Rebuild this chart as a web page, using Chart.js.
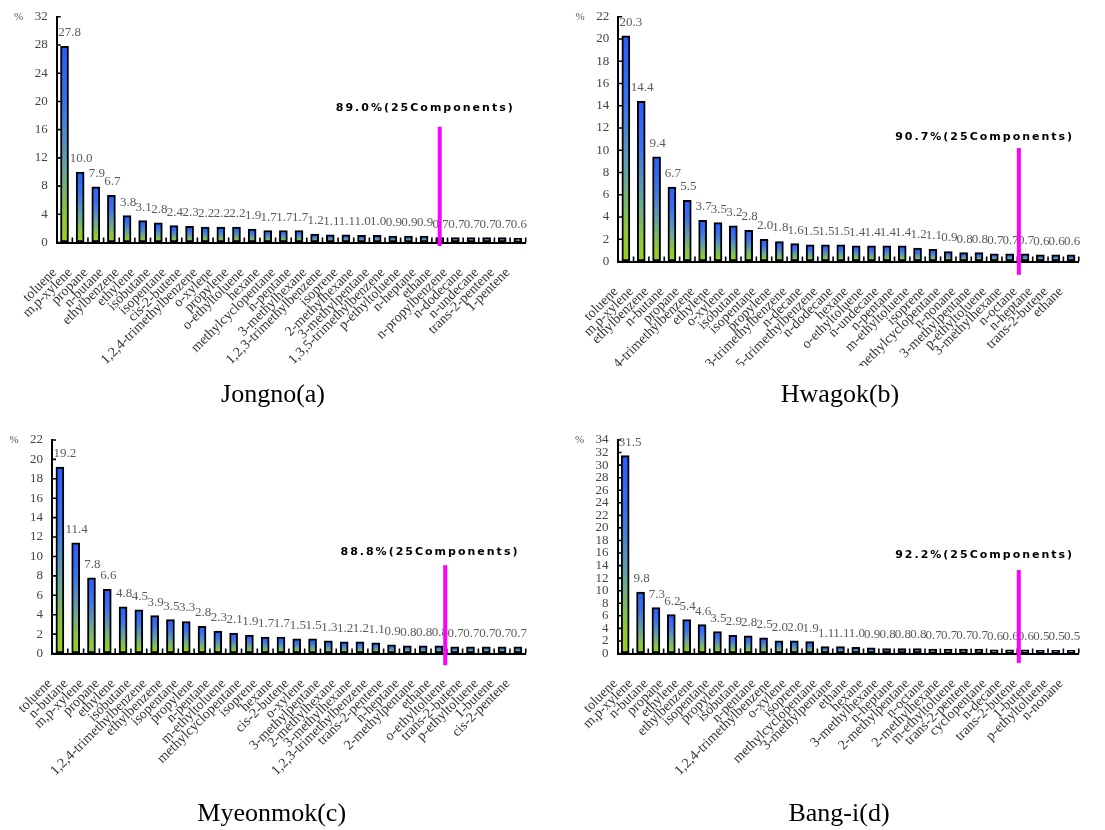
<!DOCTYPE html>
<html><head><meta charset="utf-8">
<script src="https://cdn.jsdelivr.net/npm/chart.js@4.4.1/dist/chart.umd.min.js"></script>
<style>
html,body{margin:0;padding:0;background:#fff;}
body{width:1105px;height:830px;position:relative;overflow:hidden;}
.panel{position:absolute;}
</style></head><body>
<div class="panel" style="left:0;top:0;width:552px;height:415px"><canvas id="c0"></canvas></div>
<div class="panel" style="left:552px;top:0;width:553px;height:415px"><canvas id="c1"></canvas></div>
<div class="panel" style="left:0;top:415px;width:552px;height:415px"><canvas id="c2"></canvas></div>
<div class="panel" style="left:552px;top:415px;width:553px;height:415px"><canvas id="c3"></canvas></div>
<script>
// ---------- DATA ----------
const jongnoLabels = ['toluene','m,p-xylene','propane','n-butane','ethylbenzene','ethylene','isobutane','isopentane','cis-2-butene','1,2,4-trimethylbenzene','o-xylene','propylene','o-ethyltoluene','hexane','methylcyclopentane','n-pentane','3-methylhexane','1,2,3-trimethylbenzene','isoprene','2-methylhexane','3-methylpentane','1,3,5-trimethylbenzene','p-ethyltoluene','n-heptane','ethane','n-propylbenzene','n-dodecane','n-undecane','trans-2-pentene','1-pentene'];
const jongnoValues = [27.8,10.0,7.9,6.7,3.8,3.1,2.8,2.4,2.3,2.2,2.2,2.2,1.9,1.7,1.7,1.7,1.2,1.1,1.1,1.0,1.0,0.9,0.9,0.9,0.7,0.7,0.7,0.7,0.7,0.6];

const hwagokLabels = ['toluene','m,p-xylene','ethylbenzene','n-butane','propane','1,2,4-trimethylbenzene','ethylene','o-xylene','isobutane','isopentane','propylene','1,2,3-trimethylbenzene','n-decane','1,3,5-trimethylbenzene','n-dodecane','hexane','o-ethyltoluene','n-undecane','n-pentane','m-ethyltoluene','isoprene','methylcyclopentane','n-nonane','3-methylpentane','p-ethyltoluene','3-methylhexane','n-octane','n-heptane','trans-2-butene','ethane'];
const hwagokValues = [20.3,14.4,9.4,6.7,5.5,3.7,3.5,3.2,2.8,2.0,1.8,1.6,1.5,1.5,1.5,1.4,1.4,1.4,1.4,1.2,1.1,0.9,0.8,0.8,0.7,0.7,0.7,0.6,0.6,0.6];

const myeonmokLabels = ['toluene','n-butane','m,p-xylene','propane','ethylene','isobutane','1,2,4-trimethylbenzene','ethylbenzene','isopentane','propylene','n-pentane','m-ethyltoluene','methylcyclopentane','isoprene','hexane','cis-2-butene','o-xylene','3-methylpentane','2-methylhexane','3-methylhexane','1,2,3-trimethylbenzene','trans-2-pentene','n-heptane','2-methylpentane','ethane','o-ethyltoluene','trans-2-butene','p-ethyltoluene','1-butene','cis-2-pentene'];
const myeonmokValues = [19.2,11.4,7.8,6.6,4.8,4.5,3.9,3.5,3.3,2.8,2.3,2.1,1.9,1.7,1.7,1.5,1.5,1.3,1.2,1.2,1.1,0.9,0.8,0.8,0.8,0.7,0.7,0.7,0.7,0.7];

const bangiLabels = ['toluene','m,p-xylene','n-butane','propane','ethylene','ethylbenzene','isopentane','propylene','isobutane','n-pentane','1,2,4-trimethylbenzene','o-xylene','isoprene','methylcyclopentane','3-methylpentane','ethane','hexane','3-methylhexane','n-heptane','2-methylpentane','n-octane','2-methylhexane','m-ethyltoluene','trans-2-pentene','cyclopentane','n-decane','trans-2-butene','1-butene','p-ethyltoluene','n-nonane'];
const bangiValues = [31.5,9.8,7.3,6.2,5.4,4.6,3.5,2.9,2.8,2.5,2.0,2.0,1.9,1.1,1.1,1.0,0.9,0.8,0.8,0.8,0.7,0.7,0.7,0.7,0.6,0.6,0.6,0.5,0.5,0.5];

const siteTitles = ['Jongno(a)','Hwagok(b)','Myeonmok(c)','Bang-i(d)'];
const cumulativeShare = [89.0, 90.7, 88.8, 92.2];
const componentCount = 25;
const yAxisMax = [32, 22, 22, 34];
const yAxisStep = [4, 2, 2, 2];

// ---------- LAYOUT / STYLE ----------
const layouts = [
  {pad:{left:9,right:15,top:15.5,bottom:4.2}, yWidth:47.7, xHeight:130, titlePad:7.1, clip:false,
   markerX:24.0, markerTop:16.4, markerBottom:-0.5, noteX:28.8, noteY:19.1},
  {pad:{left:26,right:3,top:15.5,bottom:4.2}, yWidth:40.2, xHeight:104.5, titlePad:13.6, clip:true,
   markerX:25.6, markerTop:10.2, markerBottom:-1.2, noteX:29.2, noteY:11.2},
  {pad:{left:6.4,right:15,top:25,bottom:0.2}, yWidth:45.6, xHeight:125, titlePad:20.1, clip:false,
   markerX:24.4, markerTop:9.1, markerBottom:-1.2, noteX:29.1, noteY:10.4},
  {pad:{left:24,right:3,top:25,bottom:0.2}, yWidth:41.5, xHeight:125, titlePad:20.1, clip:false,
   markerX:25.6, markerTop:13.3, markerBottom:-1.5, noteX:29.2, noteY:15.6}
];
const SERIF = "'Liberation Serif','Times New Roman',serif";

function barGradient(ctx){
  const ch = ctx.chart, ys = ch.scales && ch.scales.y;
  if (!ch.chartArea || !ys || ctx.type !== 'data') return '#4a88cc';
  const top = ys.getPixelForValue(ctx.raw), base = ys.getPixelForValue(0);
  if (!isFinite(top) || !isFinite(base) || base - top < 0.5) return '#8fc83a';
  const g = ch.ctx.createLinearGradient(0, top, 0, base);
  g.addColorStop(0, '#2a5cff');
  g.addColorStop(0.3, '#3a74ec');
  g.addColorStop(0.6, '#64a2a6');
  g.addColorStop(0.85, '#8cc63c');
  g.addColorStop(1, '#9ccf22');
  return g;
}

const decor = {
  id: 'decor',
  beforeDraw(chart, args, o){
    if (!o.clip) return;
    const ctx = chart.ctx, xs = chart.scales.x, tb = chart.titleBlock;
    ctx.save();
    ctx.beginPath();
    ctx.rect(0, 0, chart.width, xs.bottom);
    ctx.rect(0, tb.top, chart.width, chart.height - tb.top);
    ctx.clip();
  },
  afterDatasetsDraw(chart, args, o){
    const ctx = chart.ctx, xs = chart.scales.x, ys = chart.scales.y, ca = chart.chartArea;
    const values = chart.data.datasets[0].data;
    ctx.save();
    // inward tick marks
    ctx.strokeStyle = '#000'; ctx.lineWidth = 1.6;
    ctx.beginPath();
    ys.ticks.forEach(t => { const y = ys.getPixelForValue(t.value); ctx.moveTo(ca.left, y); ctx.lineTo(ca.left + 4, y); });
    for (let i = 1; i <= values.length; i++) { const x = xs.getPixelForValue(i - 0.5); ctx.moveTo(x, ca.bottom); ctx.lineTo(x, ca.bottom - 5); }
    ctx.stroke();
    // value labels
    ctx.fillStyle = '#5a5a5a';
    ctx.font = '13px ' + SERIF;
    ctx.textAlign = 'center'; ctx.textBaseline = 'alphabetic';
    chart.getDatasetMeta(0).data.forEach((el, i) => {
      ctx.fillText(values[i].toFixed(1), el.x + (i === 0 ? 5 : 1), el.y - 10);
    });
    // percent sign
    ctx.font = '11px ' + SERIF; ctx.fillStyle = '#555'; ctx.textBaseline = 'middle';
    ctx.fillText('%', ca.left - 38, ys.getPixelForValue(ys.max));
    // magenta cutoff line
    const mx = xs.getPixelForValue(o.markerX);
    ctx.strokeStyle = '#ff00ff'; ctx.lineWidth = 4; ctx.lineCap = 'butt';
    ctx.beginPath();
    ctx.moveTo(mx, ys.getPixelForValue(o.markerTop));
    ctx.lineTo(mx, ys.getPixelForValue(o.markerBottom));
    ctx.stroke();
    // note
    ctx.fillStyle = '#000';
    ctx.font = "bold 11px 'DejaVu Sans', sans-serif";
    ctx.letterSpacing = '2px';
    ctx.textAlign = 'right'; ctx.textBaseline = 'middle';
    ctx.fillText(o.note, xs.getPixelForValue(o.noteX), ys.getPixelForValue(o.noteY));
    ctx.letterSpacing = '0px';
    ctx.restore();
  },
  afterDraw(chart, args, o){
    if (o.clip) chart.ctx.restore();
  }
};

const allLabels = [jongnoLabels, hwagokLabels, myeonmokLabels, bangiLabels];
const allValues = [jongnoValues, hwagokValues, myeonmokValues, bangiValues];

allLabels.forEach((labels, k) => {
  const L = layouts[k];
  new Chart(document.getElementById('c' + k), {
    type: 'bar',
    data: {
      labels: labels,
      datasets: [{
        data: allValues[k],
        backgroundColor: barGradient,
        borderColor: '#000',
        borderWidth: 2,
        borderSkipped: false,
        barThickness: 8
      }]
    },
    options: {
      responsive: true,
      maintainAspectRatio: false,
      devicePixelRatio: 1,
      animation: false,
      events: [],
      layout: { padding: L.pad },
      scales: {
        x: {
          offset: true,
          grid: { display: true, drawOnChartArea: false, drawTicks: false },
          border: { display: true, color: '#000', width: 2 },
          ticks: { autoSkip: false, minRotation: 45, maxRotation: 45, padding: 22, labelOffset: -10,
                   font: { family: SERIF, size: 14 }, color: '#333' },
          afterFit: s => { s.height = L.xHeight; }
        },
        y: {
          min: 0, max: yAxisMax[k],
          grid: { display: true, drawOnChartArea: false, drawTicks: false },
          border: { display: true, color: '#000', width: 2 },
          ticks: { stepSize: yAxisStep[k], autoSkip: false, padding: 9, font: { family: SERIF, size: 13 }, color: '#444' },
          afterFit: s => { s.width = L.yWidth; }
        }
      },
      plugins: {
        legend: { display: false },
        tooltip: { enabled: false },
        title: { display: true, text: siteTitles[k], position: 'bottom',
                 font: { family: SERIF, size: 26, weight: 'normal' }, color: '#000',
                 padding: { top: L.titlePad, bottom: 0 } },
        decor: { clip: L.clip, markerX: L.markerX, markerTop: L.markerTop, markerBottom: L.markerBottom,
                 noteX: L.noteX, noteY: L.noteY,
                 note: cumulativeShare[k].toFixed(1) + '%(' + componentCount + 'Components)' }
      }
    },
    plugins: [decor]
  });
});
</script>
</body></html>
